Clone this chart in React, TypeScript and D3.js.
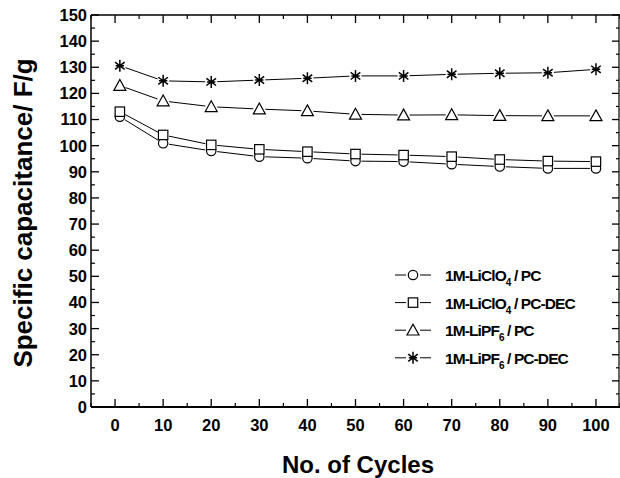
import React from "react"
import * as d3 from "d3"

const cycles = [1, 10, 20, 30, 40, 50, 60, 70, 80, 90, 100]
const liclo4Pc = [111.1, 100.9, 98, 95.8, 95.2, 94.1, 93.9, 92.9, 92, 91.3, 91.3]
const liclo4PcDec = [113, 104.1, 100.3, 98.6, 97.7, 96.8, 96.4, 95.8, 94.7, 94.1, 93.9]
const lipf6Pc = [123, 117.1, 114.9, 114, 113.3, 112, 111.7, 111.8, 111.5, 111.4, 111.4]
const lipf6PcDec = [130.6, 124.8, 124.4, 125.1, 125.8, 126.7, 126.7, 127.3, 127.7, 127.9, 129.2]

const xTicks = [0, 10, 20, 30, 40, 50, 60, 70, 80, 90, 100]
const xMinor = [-5, 5, 15, 25, 35, 45, 55, 65, 75, 85, 95, 105]
const yTicks = [0, 10, 20, 30, 40, 50, 60, 70, 80, 90, 100, 110, 120, 130, 140, 150]

const series = [
  { salt: "1M-LiClO", sub: "4", solvent: " / PC", values: liclo4Pc, symbol: "circle" },
  { salt: "1M-LiClO", sub: "4", solvent: " / PC-DEC", values: liclo4PcDec, symbol: "square" },
  { salt: "1M-LiPF", sub: "6", solvent: " / PC", values: lipf6Pc, symbol: "triangle" },
  { salt: "1M-LiPF", sub: "6", solvent: " / PC-DEC", values: lipf6PcDec, symbol: "star" },
]

const W = 620
const H = 478
const left = 91
const right = 620
const top = 15
const bottom = 407

const x = d3.scaleLinear().domain([-5, 105]).range([left, right])
const y = d3.scaleLinear().domain([0, 150]).range([bottom, top])

const font = "'Liberation Sans', Arial, sans-serif"

const Marker = ({ kind, cx, cy }: { kind: string; cx: number; cy: number }) => {
  const st = { fill: "#fff", stroke: "#000", strokeWidth: 1.2 }
  if (kind === "circle") return <circle cx={cx} cy={cy} r={4.7} {...st} />
  if (kind === "square") return <rect x={cx - 4.7} y={cy - 4.7} width={9.4} height={9.4} {...st} />
  if (kind === "triangle")
    return <path d={`M${cx},${cy - 6}L${cx + 6},${cy + 4.8}L${cx - 6},${cy + 4.8}Z`} {...st} />
  const r = 6
  const d = r * 0.8
  return (
    <path
      d={`M${cx},${cy - r}V${cy + r}M${cx - d},${cy - d * 0.75}L${cx + d},${cy + d * 0.75}M${cx - d},${cy + d * 0.75}L${cx + d},${cy - d * 0.75}M${cx - r * 0.7},${cy}H${cx + r * 0.7}`}
      fill="none"
      stroke="#000"
      strokeWidth={1.5}
    />
  )
}

const App = () => {
  const gap = 6
  const segs = (vals: number[]) =>
    vals.slice(1).map((v, i) => {
      const x1 = x(cycles[i]), y1 = y(vals[i])
      const x2 = x(cycles[i + 1]), y2 = y(v)
      const len = Math.hypot(x2 - x1, y2 - y1)
      const ux = (x2 - x1) / len, uy = (y2 - y1) / len
      return { x1: x1 + ux * gap, y1: y1 + uy * gap, x2: x2 - ux * gap, y2: y2 - uy * gap }
    })

  const yMinor = d3.range(5, 150, 10)

  return (
    <svg width={W} height={H} style={{ position: "absolute", left: 0, top: 0, background: "#fff" }}>
      {/* frame */}
      <line x1={left} x2={right} y1={top} y2={top} stroke="#000" strokeWidth={1.5} />
      <line x1={left} x2={right} y1={bottom} y2={bottom} stroke="#000" strokeWidth={2} />
      <line x1={left} x2={left} y1={top} y2={bottom} stroke="#000" strokeWidth={1.5} />
      <line x1={right - 1} x2={right - 1} y1={top} y2={bottom} stroke="#000" strokeWidth={1.2} />

      {/* x ticks */}
      {xTicks.map(t => (
        <g key={"xt" + t}>
          <line x1={x(t)} x2={x(t)} y1={bottom} y2={bottom - 8} stroke="#000" strokeWidth={1.3} />
          <line x1={x(t)} x2={x(t)} y1={top} y2={top + 8} stroke="#000" strokeWidth={1.3} />
          <text x={x(t)} y={431} textAnchor="middle" fontFamily={font} fontWeight="bold" fontSize={16.5}>
            {t}
          </text>
        </g>
      ))}
      {xMinor.map(t => (
        <g key={"xm" + t}>
          <line x1={x(t)} x2={x(t)} y1={bottom} y2={bottom - 4} stroke="#000" strokeWidth={1.2} />
          <line x1={x(t)} x2={x(t)} y1={top} y2={top + 4} stroke="#000" strokeWidth={1.2} />
        </g>
      ))}

      {/* y ticks */}
      {yTicks.map(t => (
        <g key={"yt" + t}>
          <line x1={left} x2={left + 8} y1={y(t)} y2={y(t)} stroke="#000" strokeWidth={1.3} />
          <line x1={right - 1} x2={right - 8} y1={y(t)} y2={y(t)} stroke="#000" strokeWidth={1.3} />
          <text x={87} y={y(t)} dy="0.36em" textAnchor="end" fontFamily={font} fontWeight="bold" fontSize={16.5}>
            {t}
          </text>
        </g>
      ))}
      {yMinor.map(t => (
        <g key={"ym" + t}>
          <line x1={left} x2={left + 4} y1={y(t)} y2={y(t)} stroke="#000" strokeWidth={1.2} />
          <line x1={right - 1} x2={right - 4} y1={y(t)} y2={y(t)} stroke="#000" strokeWidth={1.2} />
        </g>
      ))}

      {/* axis titles */}
      <text x={358} y={473} textAnchor="middle" fontFamily={font} fontWeight="bold" fontSize={24}>
        No. of Cycles
      </text>
      <text
        transform={`translate(32,${(top + bottom) / 2 + 2}) rotate(-90)`}
        textAnchor="middle"
        fontFamily={font}
        fontWeight="bold"
        fontSize={26}
      >
        Specific capacitance/ F/g
      </text>

      {/* series */}
      {series.map(s => (
        <g key={s.salt + s.solvent}>
          {segs(s.values).map((g, i) => (
            <line key={i} x1={g.x1} y1={g.y1} x2={g.x2} y2={g.y2} stroke="#000" strokeWidth={1} />
          ))}
          {s.values.map((v, i) => (
            <Marker key={i} kind={s.symbol} cx={x(cycles[i])} cy={y(v)} />
          ))}
        </g>
      ))}

      {/* legend */}
      {series.map((s, i) => {
        const ly = 275 + i * 27.6
        return (
          <g key={"lg" + i}>
            <line x1={395} x2={406} y1={ly} y2={ly} stroke="#000" strokeWidth={1} />
            <line x1={420} x2={431} y1={ly} y2={ly} stroke="#000" strokeWidth={1} />
            <Marker kind={s.symbol} cx={413} cy={ly} />
            <text x={445} y={ly + 6} fontFamily={font} fontWeight="bold" fontSize={15.5} letterSpacing={-0.9}>
              {s.salt}
              <tspan fontSize={10} dy={5}>{s.sub}</tspan>
              <tspan dy={-5}>{s.solvent}</tspan>
            </text>
          </g>
        )
      })}
    </svg>
  )
}

export default App
